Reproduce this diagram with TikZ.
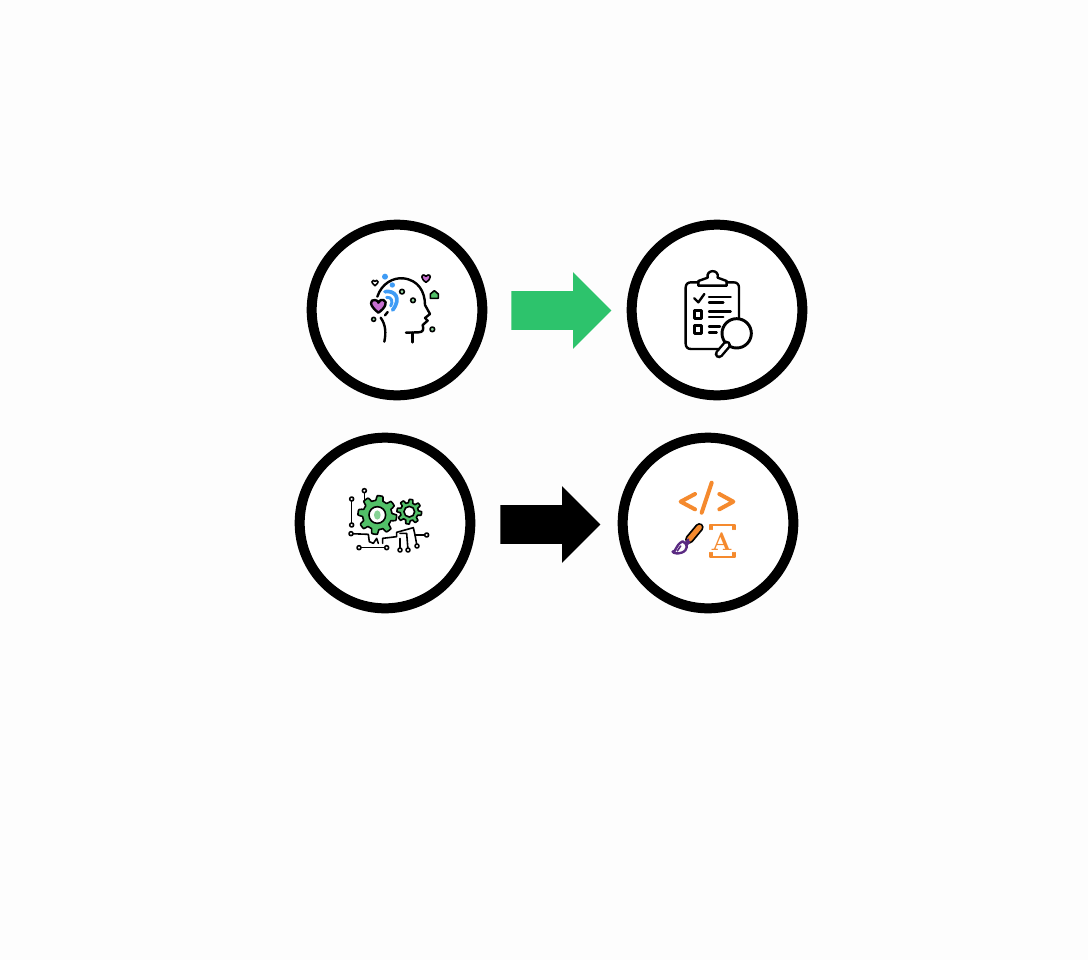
\documentclass[tikz,border=0pt]{standalone}
\usetikzlibrary{shapes.arrows}
\definecolor{arrowgreen}{HTML}{2DC36C}
\definecolor{geargreen}{HTML}{52C068}
\definecolor{iconblue}{HTML}{3E9BF5}
\definecolor{iconpink}{HTML}{C76FD0}
\definecolor{iconorange}{HTML}{F58A2E}
\definecolor{iconpurple}{HTML}{5A2A82}
\definecolor{paper}{HTML}{FDFDFD}
\newcommand{\pin}[1]{\draw[fill=white] (#1) circle (6);}
\begin{document}
\begin{tikzpicture}[x=0.75pt,y=-0.75pt,line join=round,line cap=round]
    \tikzset{ring/.style={circle,draw,line width=7.5pt,fill=white,minimum size=128pt,inner sep=0pt},
        blockarrow/.style={single arrow,anchor=tail,minimum height=75pt,inner xsep=0pt,inner ysep=14.25pt,
            single arrow head extend=14.25pt,single arrow head indent=0pt,single arrow tip angle=90},
        icon/.style={line width=1.8pt},
        thin icon/.style={line width=1.2pt}}
    \fill[paper] (0,0) rectangle (1088,960);
    \node[ring] (mind) at (397,310) {};
    \node[ring] (check) at (717,310) {};
    \node[ring] (gears) at (385,523) {};
    \node[ring] (design) at (708,523) {};
    \node[blockarrow,fill=arrowgreen] (greenarrow) at (511,310.5) {};
    \node[blockarrow,fill=black] (blackarrow) at (500,524.5) {};
    % head
    \begin{scope}[shift={(340,250)},scale=1/3,icon]
        \draw (112,140) .. controls (125,100) and (160,82) .. (190,85)
            .. controls (235,90) and (255,125) .. (255,165) -- (270,192) -- (255,204) -- (263,212) -- (248,225)
            .. controls (252,238) and (250,247) .. (235,247) -- (198,248);
        \draw (218,248) -- (218,277);
        \draw (122,203) .. controls (138,225) and (138,250) .. (133,275);
        \draw (135,196) -- (143,186);
        \draw[iconblue,line width=2.8pt] (135,125) .. controls (165,120) and (185,145) .. (158,180);
        \draw[iconblue,line width=2.2pt] (140,142) .. controls (155,140) and (160,155) .. (152,168);
        \fill[iconblue] (135,80) circle (9) (157,105) circle (8);
        \draw[fill=iconpink] (115,188) .. controls (85,165) and (90,148) .. (105,150) .. controls (112,150) and (115,155) .. (115,158)
            .. controls (118,150) and (125,148) .. (130,150) .. controls (145,155) and (135,175) .. (115,188) -- cycle;
        \draw[thin icon,fill=iconpink] (258,97) .. controls (240,85) and (245,73) .. (252,75) -- (258,79) -- (264,75) .. controls (272,73) and (276,85) .. (258,97) -- cycle;
        \draw[thin icon] (105,107) .. controls (92,98) and (95,90) .. (100,91) -- (105,94) -- (110,91) .. controls (115,90) and (118,98) .. (105,107) -- cycle;
        \draw[thin icon,fill=geargreen] (283,122) -- (295,132) -- (295,145) -- (271,145) -- (271,132) -- cycle;
        \draw[thin icon,fill=geargreen!60] (186,125) circle (7) (219,151) circle (7) (101,208) circle (6) (277,238) circle (7);
    \end{scope}
    % clipboard
    \begin{scope}[shift={(665,255)},scale=1/3,icon]
        \draw (100,82) -- (78,82) .. controls (68,82) and (62,88) .. (62,98) -- (62,266) .. controls (62,276) and (68,282) .. (78,282) -- (165,282);
        \draw (185,82) -- (206,82) .. controls (216,82) and (222,88) .. (222,98) -- (222,190);
        \draw (100,92) -- (100,78) -- (128,68) .. controls (122,42) and (164,42) .. (158,68) -- (185,78) -- (185,92) -- cycle;
        \draw (88,130) -- (100,142) -- (118,117);
        \draw (132,126) -- (197,126) (132,142) -- (175,142);
        \draw (88,166) rectangle (110,190) (88,212) rectangle (110,235);
        \draw (132,170) -- (197,170) (132,186) -- (175,186);
        \draw (132,215) -- (165,215) (132,232) -- (155,232);
        \draw[line width=2.2pt,fill=white] (215,235) circle (44);
        \draw[line width=6.5pt] (185,270) -- (162,297);
        \draw[white,line width=2.8pt] (185,270) -- (162,297);
    \end{scope}
    % gears and circuit
    \begin{scope}[shift={(335,475)},scale=1/3,thin icon]
        \draw (88,47) -- (88,80) (50,72) -- (50,150);
        \draw (48,176) -- (100,178) -- (103,200) -- (115,205) -- (125,190) -- (130,205);
        \draw (143,205) -- (143,190) -- (185,185) -- (185,172) -- (235,158) -- (240,180) -- (275,180);
        \draw (195,175) -- (215,175) -- (219,225) (195,190) -- (195,225) (240,180) -- (246,213);
        \draw (72,218) -- (155,218);
        \pin{88,47} \pin{50,72} \pin{50,150} \pin{48,176} \pin{275,180} \pin{195,225} \pin{219,225} \pin{246,213} \pin{72,218} \pin{155,218}
    \end{scope}
    \begin{scope}[shift={(377.3,515)},scale=1/3,thin icon]
        \draw[fill=geargreen,samples=145,domain=0:360,variable=\x] plot (\x:{51+7*max(-1,min(1,2.5*sin(8*\x+22.5)))}) -- cycle;
        \draw[fill=white] (0,0) circle (25);
        \fill[geargreen!70] (0,0) ellipse (10 and 14);
    \end{scope}
    \begin{scope}[shift={(409.3,511.7)},scale=1/3,thin icon]
        \draw[fill=geargreen,samples=145,domain=0:360,variable=\x] plot (\x:{32+5*max(-1,min(1,2.5*sin(8*\x+22.5)))}) -- cycle;
        \draw[fill=white] (0,0) circle (16);
    \end{scope}
    % code and brush
    \begin{scope}[shift={(660,470)},scale=1/3,iconorange,line width=3pt]
        \draw (105,72) -- (62,95) -- (105,118);
        \draw (155,38) -- (125,128);
        \draw (178,72) -- (220,95) -- (178,118);
        \draw[line width=1.3pt] (150,178) -- (150,166) -- (226,166) -- (226,178);
        \draw[line width=1.3pt] (150,248) -- (150,260) -- (226,260) -- (226,248);
        \draw[line width=1.3pt] (157,166) -- (157,178) (219,166) -- (219,178) (157,248) -- (157,260) (219,248) -- (219,260);
        \node[text=iconorange,font=\bfseries,scale=1.9] (letter) at (185,215) {A};
        \draw[black,line width=6.5pt] (118,172) -- (88,208);
        \draw[iconorange,line width=3.8pt] (118,172) -- (88,208);
        \draw[iconpurple,line width=1.6pt] (85,208) -- (72,225) (88,215) -- (75,232);
        \draw[iconpurple,line width=1.8pt,fill=white] (68,214) .. controls (85,222) and (85,240) .. (65,248) .. controls (52,252) and (40,250) .. (38,245)
            .. controls (50,245) and (45,225) .. (68,214) -- cycle;
        \draw[iconpurple,line width=1.2pt] (62,228) -- (52,243);
    \end{scope}
\end{tikzpicture}
\end{document}
